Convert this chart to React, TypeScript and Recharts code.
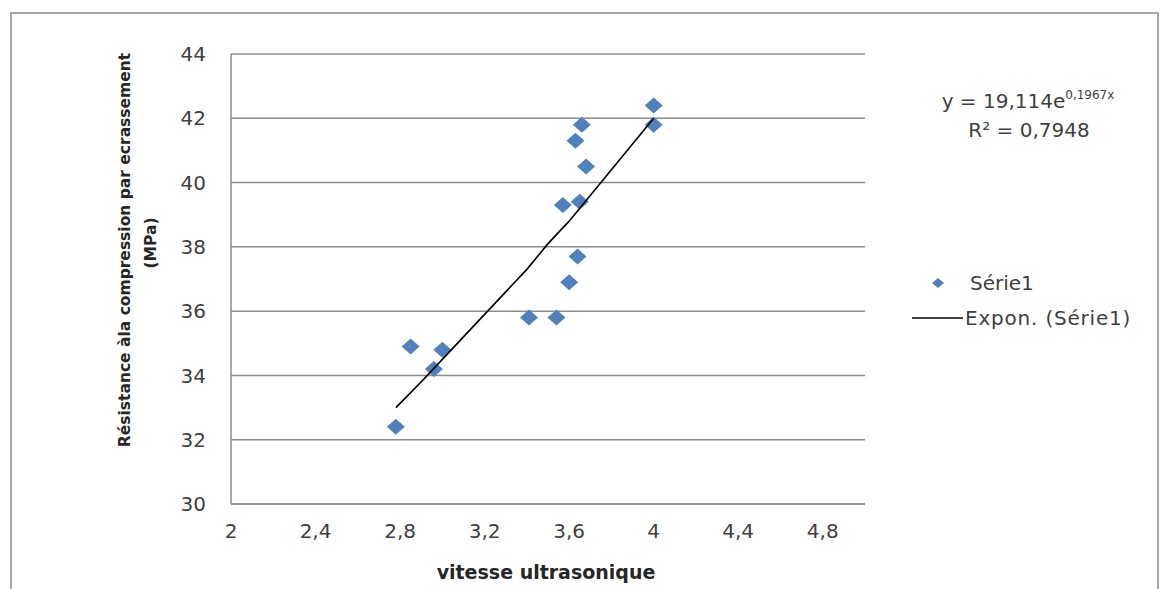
import { ScatterChart, Scatter, XAxis, YAxis, CartesianGrid } from "recharts";

// measured points (vitesse, résistance)
const vitesse = [2.78, 2.85, 2.96, 3.0, 3.41, 3.54, 3.57, 3.6, 3.64, 3.65, 3.66, 3.63, 3.68, 4.0, 4.0];
const resistance = [32.4, 34.9, 34.2, 34.8, 35.8, 35.8, 39.3, 36.9, 37.7, 39.4, 41.8, 41.3, 40.5, 42.4, 41.8];

// exponential trend line
const trendX = [2.78, 2.9, 3.0, 3.1, 3.2, 3.3, 3.4, 3.5, 3.6, 3.7, 3.8, 3.9, 4.0];
const trendY = [33.0, 33.8, 34.5, 35.2, 35.9, 36.6, 37.3, 38.1, 38.8, 39.6, 40.4, 41.2, 42.0];

const xTicks = [2, 2.4, 2.8, 3.2, 3.6, 4, 4.4, 4.8];
const yTicks = [30, 32, 34, 36, 38, 40, 42, 44];

const points = vitesse.map((x, i) => ({ x, y: resistance[i] }));
const trend = trendX.map((x, i) => ({ x, y: trendY[i] }));

const BLUE = "#4F81BD";
const GRID = "#8c8c8c";
const TEXT = "#404040";

const fmt = (v: number) => String(v).replace(".", ",");

const Diamond = (props: any) => {
  const { cx, cy } = props;
  if (cx == null || cy == null) return <g />;
  return <polygon points={`${cx - 9},${cy} ${cx},${cy - 8} ${cx + 9},${cy} ${cx},${cy + 8}`} fill={BLUE} />;
};

export default function App() {
  return (
    <div style={{ position: "fixed", left: 0, top: 0, width: 1164, height: 589, overflow: "hidden", background: "#fff" }}>
      <div style={{ position: "absolute", left: 0, top: 0 }}>
        <ScatterChart width={1164} height={589} margin={{ top: 54, right: 299, bottom: 0, left: 0 }}>
          <CartesianGrid vertical={false} stroke={GRID} strokeWidth={1.5} horizontalValues={yTicks} />
          <XAxis
            type="number"
            dataKey="x"
            domain={[2, 5]}
            ticks={xTicks}
            tickFormatter={fmt}
            height={85}
            tickLine={false}
            tickSize={0}
            tickMargin={20}
            axisLine={{ stroke: GRID, strokeWidth: 1.5 }}
            tick={{ fill: TEXT, fontSize: 20, fontFamily: "DejaVu Sans" }}
            allowDataOverflow
          />
          <YAxis
            type="number"
            dataKey="y"
            domain={[30, 44]}
            ticks={yTicks}
            width={231}
            tickLine={false}
            tickSize={0}
            tickMargin={25}
            axisLine={{ stroke: GRID, strokeWidth: 1.5 }}
            tick={{ fill: TEXT, fontSize: 20, fontFamily: "DejaVu Sans" }}
          />
          <Scatter data={points} shape={Diamond} isAnimationActive={false} />
          <Scatter
            data={trend}
            line={{ stroke: "#000", strokeWidth: 1.6 }}
            shape={() => <g />}
            isAnimationActive={false}
          />
        </ScatterChart>
      </div>

      <svg width={1164} height={589} style={{ position: "absolute", left: 0, top: 0, pointerEvents: "none" }}>
        <rect x={11} y={13} width={1147} height={600} fill="none" stroke="#a6a6a6" strokeWidth={2} />
        <g fontFamily="DejaVu Sans" fontWeight="bold" fontSize={15.5} fill="#262626" textAnchor="middle">
          <text transform="translate(130,250) rotate(-90)">Résistance àla compression par ecrassement</text>
          <text transform="translate(156,243) rotate(-90)">(MPa)</text>
        </g>
        <text x={546} y={579} textAnchor="middle" fontFamily="DejaVu Sans" fontWeight="bold" fontSize={19} fill="#262626">
          vitesse ultrasonique
        </text>
        <g fontFamily="DejaVu Sans" fill={TEXT}>
          <text x={1028} y={108} textAnchor="middle" fontSize={20}>
            y = 19,114e<tspan fontSize={12} dy={-9}>0,1967x</tspan>
          </text>
          <text x={1029} y={137} textAnchor="middle" fontSize={20}>R² = 0,7948</text>
          <polygon points="932,283 938,278 944,283 938,288" fill={BLUE} />
          <text x={970} y={290} fontSize={20}>Série1</text>
          <line x1={912} y1={318} x2={963} y2={318} stroke="#000" strokeWidth={1.6} />
          <text x={965} y={325} fontSize={20} letterSpacing={0.8}>Expon. (Série1)</text>
        </g>
      </svg>
    </div>
  );
}
